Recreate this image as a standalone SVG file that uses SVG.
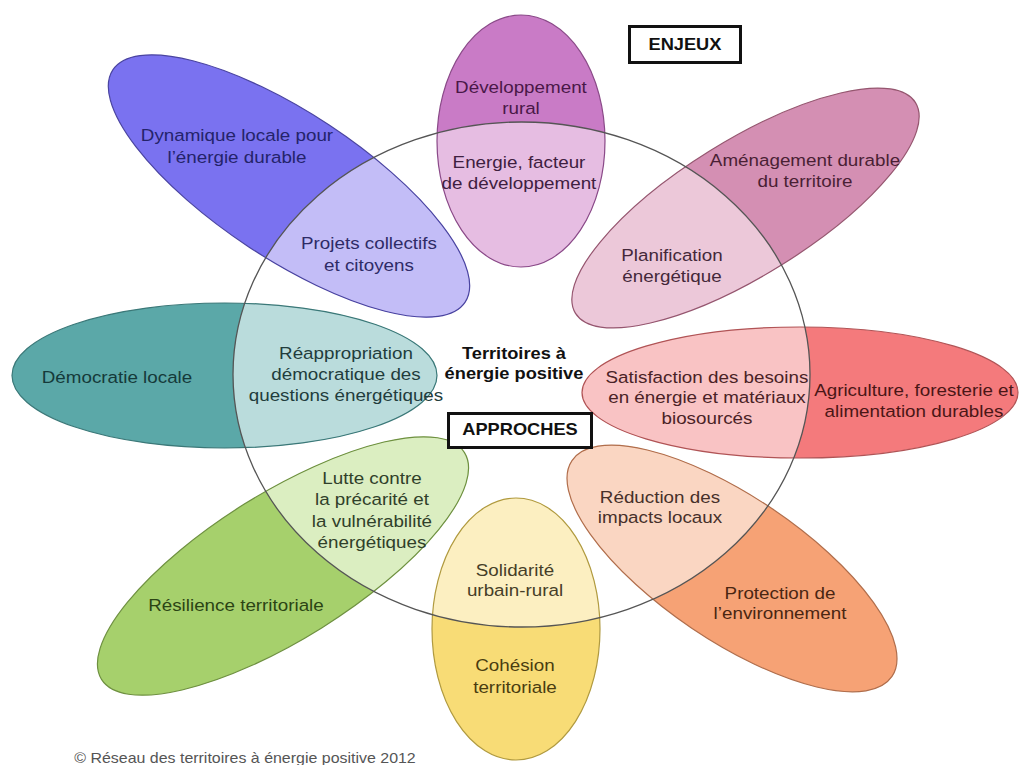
<svg xmlns="http://www.w3.org/2000/svg" xmlns:xlink="http://www.w3.org/1999/xlink" width="1019" height="765" viewBox="0 0 1019 765">
<style>
text{font-family:"Liberation Sans",Arial,sans-serif;font-size:16.5px;text-anchor:middle;transform-box:fill-box;transform-origin:center;transform:scaleX(1.14)}
.b{font-weight:bold;font-size:16px;fill:#111}
.edge{fill:none;stroke-width:1.2}
.box{fill:#fff;stroke:#111;stroke-width:3}
.copy{font-size:14px;fill:#555}
</style>
<defs>
<clipPath id="inner" clipPathUnits="userSpaceOnUse"><ellipse cx="521.5" cy="374.5" rx="288.5" ry="252.5"/></clipPath>
<ellipse id="p1" cx="289" cy="186" rx="211" ry="73" transform="rotate(33.4 289 186)"/>
<ellipse id="p2" cx="521" cy="141" rx="84" ry="126"/>
<ellipse id="p3" cx="745.5" cy="208" rx="200" ry="67.4" transform="rotate(-31.8 745.5 208)"/>
<ellipse id="p4" cx="224.5" cy="375.5" rx="212.5" ry="72.5"/>
<ellipse id="p5" cx="800" cy="392.5" rx="218" ry="65.5"/>
<ellipse id="p6" cx="283" cy="566" rx="214" ry="73" transform="rotate(-32 283 566)"/>
<ellipse id="p7" cx="516" cy="629" rx="84" ry="131"/>
<ellipse id="p8" cx="732" cy="568.5" rx="193" ry="72" transform="rotate(34 732 568.5)"/>
</defs>
<rect width="1019" height="765" fill="#fff"/>

<g id="petal-dynamique">
<use xlink:href="#p1" fill="#7a72f0"/>
<use xlink:href="#p1" fill="#c3bdf7" clip-path="url(#inner)"/>
<use xlink:href="#p1" class="edge" stroke="#4a44a0"/>
<text fill="#24236a"><tspan x="237" y="141">Dynamique locale pour</tspan><tspan x="237" y="163">l’énergie durable</tspan></text>
<text fill="#2e2b66"><tspan x="369" y="249">Projets collectifs</tspan><tspan x="369" y="271">et citoyens</tspan></text>
</g>

<g id="petal-developpement">
<use xlink:href="#p2" fill="#c97bc6"/>
<use xlink:href="#p2" fill="#e6bde2" clip-path="url(#inner)"/>
<use xlink:href="#p2" class="edge" stroke="#8a4a88"/>
<text fill="#4a1848"><tspan x="521" y="93">Développement</tspan><tspan x="521" y="114">rural</tspan></text>
<text fill="#3e2040"><tspan x="519" y="168">Energie, facteur</tspan><tspan x="519" y="189">de développement</tspan></text>
</g>

<g id="petal-amenagement">
<use xlink:href="#p3" fill="#d48fb3"/>
<use xlink:href="#p3" fill="#ecc8d9" clip-path="url(#inner)"/>
<use xlink:href="#p3" class="edge" stroke="#95566f"/>
<text fill="#4a1f34"><tspan x="805" y="166">Aménagement durable</tspan><tspan x="805" y="187">du territoire</tspan></text>
<text fill="#44283a"><tspan x="672" y="261">Planification</tspan><tspan x="672" y="282">énergétique</tspan></text>
</g>

<g id="petal-democratie">
<use xlink:href="#p4" fill="#5ba8a8"/>
<use xlink:href="#p4" fill="#badcdc" clip-path="url(#inner)"/>
<use xlink:href="#p4" class="edge" stroke="#3b7878"/>
<text fill="#153a3a"><tspan x="117" y="383">Démocratie locale</tspan></text>
<text fill="#223c3c"><tspan x="346" y="359">Réappropriation</tspan><tspan x="346" y="380">démocratique des</tspan><tspan x="346" y="401">questions énergétiques</tspan></text>
</g>

<g id="petal-agriculture">
<use xlink:href="#p5" fill="#f47a7c"/>
<use xlink:href="#p5" fill="#f9c3c4" clip-path="url(#inner)"/>
<use xlink:href="#p5" class="edge" stroke="#b05456"/>
<text fill="#4a1616"><tspan x="914" y="396">Agriculture, foresterie et</tspan><tspan x="914" y="417">alimentation durables</tspan></text>
<text fill="#4a2226"><tspan x="707" y="383">Satisfaction des besoins</tspan><tspan x="707" y="403">en énergie et matériaux</tspan><tspan x="707" y="424">biosourcés</tspan></text>
</g>

<g id="petal-resilience">
<use xlink:href="#p6" fill="#a6d06c"/>
<use xlink:href="#p6" fill="#dbeec1" clip-path="url(#inner)"/>
<use xlink:href="#p6" class="edge" stroke="#6e9040"/>
<text fill="#2b4414"><tspan x="236" y="611">Résilience territoriale</tspan></text>
<text fill="#30402a"><tspan x="372" y="484">Lutte contre</tspan><tspan x="372" y="505">la précarité et</tspan><tspan x="372" y="527">la vulnérabilité</tspan><tspan x="372" y="548">énergétiques</tspan></text>
</g>

<g id="petal-cohesion">
<use xlink:href="#p7" fill="#f8dc76"/>
<use xlink:href="#p7" fill="#fcefc1" clip-path="url(#inner)"/>
<use xlink:href="#p7" class="edge" stroke="#b09a40"/>
<text fill="#4a3c10"><tspan x="515" y="671">Cohésion</tspan><tspan x="515" y="693">territoriale</tspan></text>
<text fill="#463e28"><tspan x="515" y="576">Solidarité</tspan><tspan x="515" y="596">urbain-rural</tspan></text>
</g>

<g id="petal-protection">
<use xlink:href="#p8" fill="#f6a275"/>
<use xlink:href="#p8" fill="#fad6c2" clip-path="url(#inner)"/>
<use xlink:href="#p8" class="edge" stroke="#b06e4c"/>
<text fill="#4a2612"><tspan x="780" y="599">Protection de</tspan><tspan x="780" y="619">l’environnement</tspan></text>
<text fill="#46302a"><tspan x="660" y="503">Réduction des</tspan><tspan x="660" y="523">impacts locaux</tspan></text>
</g>

<g id="connectors"></g>

<g id="centre">
<ellipse cx="521.5" cy="374.5" rx="288.5" ry="252.5" fill="none" stroke="#555" stroke-width="1.3"/>
<text class="b"><tspan x="514" y="359">Territoires à</tspan><tspan x="514" y="379">énergie positive</tspan></text>
</g>

<g id="label-approches">
<rect class="box" x="448.5" y="413.5" width="143" height="34"/>
<text class="b" x="520" y="435">APPROCHES</text>
</g>

<g id="label-enjeux">
<rect class="box" x="629.5" y="26.5" width="111" height="36"/>
<text class="b" x="685" y="50">ENJEUX</text>
</g>

<text class="copy" x="245" y="763">© Réseau des territoires à énergie positive 2012</text>
</svg>
